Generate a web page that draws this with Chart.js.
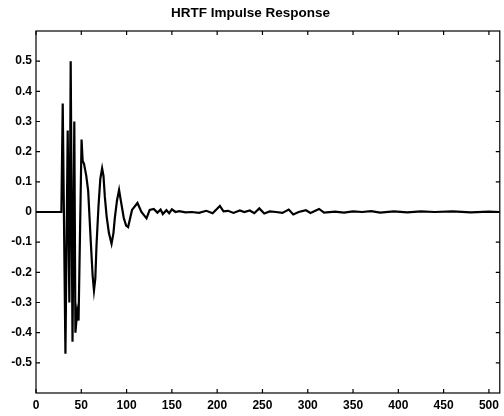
<!DOCTYPE html>
<html>
<head>
<meta charset="utf-8">
<script src="https://cdn.jsdelivr.net/npm/chart.js@4.4.1/dist/chart.umd.min.js"></script>
<style>
  html, body { margin: 0; padding: 0; background: #fff; }
  #wrap { width: 504px; height: 416px; }
</style>
</head>
<body>
<div id="wrap"><canvas id="hrtf"></canvas></div>
<script>
// sample index and amplitude
const sampleIdx = [0, 28, 29.5, 32.5, 35, 36.8, 38.3, 40.3, 42.3, 43.5, 45.5, 47, 50.3, 51.5, 53, 55.5, 57.6,
  60.5, 62.5, 64, 65.5, 66.8, 69, 71, 73, 74.5, 76, 78, 80.5, 83.4, 85.5, 87, 89.5, 91.7, 93.5, 96.9, 99.5, 101.7,
  106, 112, 116.4, 122, 125.5, 130, 134, 137.5,
  140, 144, 147, 150, 154, 158, 165, 172, 180, 188, 195, 203, 207, 212, 218, 225, 230, 236, 241,
  246.5, 252, 258, 265, 272, 279, 284, 290, 298, 303, 312.5, 318, 330, 340, 350, 360, 370, 380,
  395, 410, 425, 440, 460, 480, 500, 512];
const amplitude = [0, 0, 0.36, -0.47, 0.27, -0.30, 0.50, -0.43, 0.30, -0.40, -0.33, -0.36, 0.24, 0.17, 0.16, 0.12, 0.07,
  -0.10, -0.21, -0.26, -0.22, -0.11, 0.02, 0.11, 0.145, 0.12, 0.05, -0.015, -0.07, -0.105, -0.07, -0.02, 0.04, 0.073, 0.04, -0.02, -0.045, -0.05,
  0.007, 0.03, 0.0, -0.021, 0.007, 0.01, -0.002, 0.008,
  -0.007, 0.006, -0.004, 0.009, 0.0, 0.003, -0.001, 0.0, -0.003, 0.004, -0.004, 0.02, 0.002, 0.004, -0.003, 0.005, 0.0, 0.005, -0.004,
  0.012, -0.005, 0.002, 0.0, -0.003, 0.008, -0.008, 0.0, 0.006, -0.003, 0.01, -0.002, 0.001, -0.002, 0.002, 0.0, 0.003, -0.002,
  0.002, -0.001, 0.002, 0.0, 0.002, -0.001, 0.001, 0];

const xTicks = [0, 50, 100, 150, 200, 250, 300, 350, 400, 450, 500];
const yTicks = [-0.5, -0.4, -0.3, -0.2, -0.1, 0, 0.1, 0.2, 0.3, 0.4, 0.5];

const points = sampleIdx.map((x, i) => ({ x: x, y: amplitude[i] }));

// box + inward ticks on all four sides, matlab style
const boxPlugin = {
  id: 'box',
  afterDraw(chart) {
    const ctx = chart.ctx;
    const a = chart.chartArea;
    const xs = chart.scales.x, ys = chart.scales.y;
    ctx.save();
    ctx.strokeStyle = '#000';
    ctx.lineWidth = 1.2;
    ctx.strokeRect(a.left, a.top, a.right - a.left, a.bottom - a.top);
    ctx.beginPath();
    xs.ticks.forEach(t => {
      const px = xs.getPixelForValue(t.value);
      ctx.moveTo(px, a.bottom); ctx.lineTo(px, a.bottom - 4);
      ctx.moveTo(px, a.top); ctx.lineTo(px, a.top + 4);
    });
    ys.ticks.forEach(t => {
      const py = ys.getPixelForValue(t.value);
      ctx.moveTo(a.left, py); ctx.lineTo(a.left + 4, py);
      ctx.moveTo(a.right, py); ctx.lineTo(a.right - 4, py);
    });
    ctx.stroke();
    ctx.restore();
  }
};

const tickFont = { family: 'Liberation Sans, Arial, sans-serif', size: 12, weight: 'bold' };

new Chart(document.getElementById('hrtf'), {
  type: 'line',
  data: {
    datasets: [{
      data: points,
      borderColor: '#000',
      borderWidth: 2.2,
      pointRadius: 0,
      tension: 0,
      fill: false
    }]
  },
  options: {
    responsive: true,
    maintainAspectRatio: false,
    animation: false,
    layout: { padding: { left: 0, right: 3, top: 0, bottom: 0 } },
    plugins: {
      legend: { display: false },
      tooltip: { enabled: false },
      title: {
        display: true,
        text: 'HRTF Impulse Response',
        color: '#000',
        font: { family: 'Liberation Sans, Arial, sans-serif', size: 13.5, weight: 'bold' },
        padding: { top: 5, bottom: 9.8 }
      }
    },
    scales: {
      x: {
        type: 'linear',
        min: 0,
        max: 512,
        afterBuildTicks: s => { s.ticks = xTicks.map(v => ({ value: v })); },
        afterFit: s => { s.height = 23; },
        grid: { display: false, drawTicks: false },
        border: { display: false },
        ticks: { color: '#000', font: tickFont, padding: 5, maxRotation: 0, callback: v => String(v) }
      },
      y: {
        min: -0.6,
        max: 0.6,
        afterBuildTicks: s => { s.ticks = yTicks.map(v => ({ value: v })); },
        afterFit: s => { s.width = 36; },
        grid: { display: false, drawTicks: false },
        border: { display: false },
        ticks: { color: '#000', font: tickFont, padding: 4, callback: v => String(Number(v.toFixed(1))) }
      }
    }
  },
  plugins: [boxPlugin]
});
</script>
</body>
</html>
